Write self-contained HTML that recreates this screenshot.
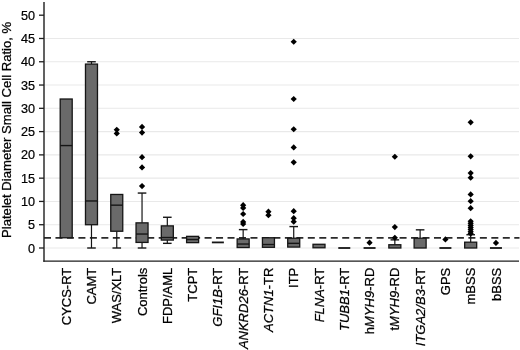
<!DOCTYPE html><html><head><meta charset="utf-8"><style>html,body{margin:0;padding:0;background:#fff;}svg{display:block;filter:blur(0.3px);}text{font-family:"Liberation Sans",sans-serif;fill:#000;stroke:#000;stroke-width:0.25px;}</style></head><body>
<svg width="520" height="350" viewBox="0 0 520 350">
<rect x="0" y="0" width="520" height="350" fill="#fff"/>
<line x1="45" y1="248.00" x2="519" y2="248.00" stroke="#e9e9e9" stroke-width="1.1"/>
<line x1="45" y1="224.72" x2="519" y2="224.72" stroke="#e9e9e9" stroke-width="1.1"/>
<line x1="45" y1="201.44" x2="519" y2="201.44" stroke="#e9e9e9" stroke-width="1.1"/>
<line x1="45" y1="178.16" x2="519" y2="178.16" stroke="#e9e9e9" stroke-width="1.1"/>
<line x1="45" y1="154.88" x2="519" y2="154.88" stroke="#e9e9e9" stroke-width="1.1"/>
<line x1="45" y1="131.60" x2="519" y2="131.60" stroke="#e9e9e9" stroke-width="1.1"/>
<line x1="45" y1="108.32" x2="519" y2="108.32" stroke="#e9e9e9" stroke-width="1.1"/>
<line x1="45" y1="85.04" x2="519" y2="85.04" stroke="#e9e9e9" stroke-width="1.1"/>
<line x1="45" y1="61.76" x2="519" y2="61.76" stroke="#e9e9e9" stroke-width="1.1"/>
<line x1="45" y1="38.48" x2="519" y2="38.48" stroke="#e9e9e9" stroke-width="1.1"/>
<line x1="44" y1="237.85" x2="519.5" y2="237.85" stroke="#2a2a2a" stroke-width="1.6" stroke-dasharray="7 4.47"/>
<rect x="60.20" y="99.01" width="12.00" height="138.75" fill="#6a6a6a" stroke="#151515" stroke-width="1.3"/>
<line x1="60.20" y1="145.57" x2="72.20" y2="145.57" stroke="#151515" stroke-width="1.4"/>
<line x1="91.48" y1="61.76" x2="91.48" y2="64.09" stroke="#151515" stroke-width="1.2"/>
<line x1="87.18" y1="61.76" x2="95.78" y2="61.76" stroke="#151515" stroke-width="1.4"/>
<line x1="91.48" y1="248.00" x2="91.48" y2="224.72" stroke="#151515" stroke-width="1.2"/>
<line x1="87.18" y1="248.00" x2="95.78" y2="248.00" stroke="#151515" stroke-width="1.4"/>
<rect x="85.48" y="64.09" width="12.00" height="160.63" fill="#6a6a6a" stroke="#151515" stroke-width="1.3"/>
<line x1="85.48" y1="200.97" x2="97.48" y2="200.97" stroke="#151515" stroke-width="1.4"/>
<line x1="116.76" y1="248.00" x2="116.76" y2="231.24" stroke="#151515" stroke-width="1.2"/>
<line x1="112.46" y1="248.00" x2="121.06" y2="248.00" stroke="#151515" stroke-width="1.4"/>
<rect x="110.76" y="194.46" width="12.00" height="36.78" fill="#6a6a6a" stroke="#151515" stroke-width="1.3"/>
<line x1="110.76" y1="205.16" x2="122.76" y2="205.16" stroke="#151515" stroke-width="1.4"/>
<line x1="142.04" y1="193.06" x2="142.04" y2="222.86" stroke="#151515" stroke-width="1.2"/>
<line x1="137.74" y1="193.06" x2="146.34" y2="193.06" stroke="#151515" stroke-width="1.4"/>
<line x1="142.04" y1="248.00" x2="142.04" y2="242.41" stroke="#151515" stroke-width="1.2"/>
<line x1="137.74" y1="248.00" x2="146.34" y2="248.00" stroke="#151515" stroke-width="1.4"/>
<rect x="136.04" y="222.86" width="12.00" height="19.56" fill="#6a6a6a" stroke="#151515" stroke-width="1.3"/>
<line x1="136.04" y1="234.03" x2="148.04" y2="234.03" stroke="#151515" stroke-width="1.4"/>
<line x1="167.32" y1="217.27" x2="167.32" y2="225.88" stroke="#151515" stroke-width="1.2"/>
<line x1="163.02" y1="217.27" x2="171.62" y2="217.27" stroke="#151515" stroke-width="1.4"/>
<line x1="167.32" y1="243.34" x2="167.32" y2="240.08" stroke="#151515" stroke-width="1.2"/>
<line x1="163.02" y1="243.34" x2="171.62" y2="243.34" stroke="#151515" stroke-width="1.4"/>
<rect x="161.32" y="225.88" width="12.00" height="14.20" fill="#6a6a6a" stroke="#151515" stroke-width="1.3"/>
<line x1="161.32" y1="237.52" x2="173.32" y2="237.52" stroke="#151515" stroke-width="1.4"/>
<rect x="186.60" y="236.36" width="12.00" height="6.29" fill="#6a6a6a" stroke="#151515" stroke-width="1.3"/>
<line x1="186.60" y1="239.53" x2="198.60" y2="239.53" stroke="#151515" stroke-width="1.4"/>
<line x1="211.88" y1="242.41" x2="223.88" y2="242.41" stroke="#151515" stroke-width="1.8"/>
<line x1="243.16" y1="229.61" x2="243.16" y2="238.92" stroke="#151515" stroke-width="1.2"/>
<line x1="238.86" y1="229.61" x2="247.46" y2="229.61" stroke="#151515" stroke-width="1.4"/>
<rect x="237.16" y="238.92" width="12.00" height="8.61" fill="#6a6a6a" stroke="#151515" stroke-width="1.3"/>
<line x1="237.16" y1="244.04" x2="249.16" y2="244.04" stroke="#151515" stroke-width="1.4"/>
<rect x="262.44" y="237.76" width="12.00" height="9.54" fill="#6a6a6a" stroke="#151515" stroke-width="1.3"/>
<line x1="262.44" y1="244.51" x2="274.44" y2="244.51" stroke="#151515" stroke-width="1.4"/>
<line x1="293.72" y1="226.58" x2="293.72" y2="238.22" stroke="#151515" stroke-width="1.2"/>
<line x1="289.42" y1="226.58" x2="298.02" y2="226.58" stroke="#151515" stroke-width="1.4"/>
<rect x="287.72" y="238.22" width="12.00" height="8.85" fill="#6a6a6a" stroke="#151515" stroke-width="1.3"/>
<line x1="287.72" y1="243.34" x2="299.72" y2="243.34" stroke="#151515" stroke-width="1.4"/>
<rect x="313.00" y="244.28" width="12.00" height="3.49" fill="#6a6a6a" stroke="#151515" stroke-width="1.3"/>
<line x1="338.28" y1="248.00" x2="350.28" y2="248.00" stroke="#151515" stroke-width="1.8"/>
<line x1="363.56" y1="248.00" x2="375.56" y2="248.00" stroke="#151515" stroke-width="1.8"/>
<line x1="394.84" y1="239.85" x2="394.84" y2="244.74" stroke="#151515" stroke-width="1.2"/>
<line x1="390.54" y1="239.85" x2="399.14" y2="239.85" stroke="#151515" stroke-width="1.4"/>
<rect x="388.84" y="244.74" width="12.00" height="3.26" fill="#6a6a6a" stroke="#151515" stroke-width="1.3"/>
<line x1="420.12" y1="229.84" x2="420.12" y2="238.22" stroke="#151515" stroke-width="1.2"/>
<line x1="415.82" y1="229.84" x2="424.42" y2="229.84" stroke="#151515" stroke-width="1.4"/>
<rect x="414.12" y="238.22" width="12.00" height="9.78" fill="#6a6a6a" stroke="#151515" stroke-width="1.3"/>
<line x1="439.40" y1="248.00" x2="451.40" y2="248.00" stroke="#151515" stroke-width="1.8"/>
<line x1="470.68" y1="234.73" x2="470.68" y2="242.18" stroke="#151515" stroke-width="1.2"/>
<line x1="466.38" y1="234.73" x2="474.98" y2="234.73" stroke="#151515" stroke-width="1.4"/>
<rect x="464.68" y="242.18" width="12.00" height="5.82" fill="#6a6a6a" stroke="#151515" stroke-width="1.3"/>
<line x1="489.96" y1="248.00" x2="501.96" y2="248.00" stroke="#151515" stroke-width="1.8"/>
<path d="M116.76 126.64L119.86 129.74L116.76 132.84L113.66 129.74Z" fill="#000"/>
<path d="M116.76 130.36L119.86 133.46L116.76 136.56L113.66 133.46Z" fill="#000"/>
<path d="M142.04 123.84L145.14 126.94L142.04 130.04L138.94 126.94Z" fill="#000"/>
<path d="M142.04 129.43L145.14 132.53L142.04 135.63L138.94 132.53Z" fill="#000"/>
<path d="M142.04 154.11L145.14 157.21L142.04 160.31L138.94 157.21Z" fill="#000"/>
<path d="M142.04 164.35L145.14 167.45L142.04 170.55L138.94 167.45Z" fill="#000"/>
<path d="M142.04 182.98L145.14 186.08L142.04 189.18L138.94 186.08Z" fill="#000"/>
<path d="M243.16 202.06L246.26 205.16L243.16 208.26L240.06 205.16Z" fill="#000"/>
<path d="M243.16 204.86L246.26 207.96L243.16 211.06L240.06 207.96Z" fill="#000"/>
<path d="M243.16 210.91L246.26 214.01L243.16 217.11L240.06 214.01Z" fill="#000"/>
<path d="M243.16 218.83L246.26 221.93L243.16 225.03L240.06 221.93Z" fill="#000"/>
<path d="M243.16 220.92L246.26 224.02L243.16 227.12L240.06 224.02Z" fill="#000"/>
<path d="M268.44 208.58L271.54 211.68L268.44 214.78L265.34 211.68Z" fill="#000"/>
<path d="M268.44 212.08L271.54 215.18L268.44 218.28L265.34 215.18Z" fill="#000"/>
<path d="M293.72 38.64L296.82 41.74L293.72 44.84L290.62 41.74Z" fill="#000"/>
<path d="M293.72 95.91L296.82 99.01L293.72 102.11L290.62 99.01Z" fill="#000"/>
<path d="M293.72 126.17L296.82 129.27L293.72 132.37L290.62 129.27Z" fill="#000"/>
<path d="M293.72 144.33L296.82 147.43L293.72 150.53L290.62 147.43Z" fill="#000"/>
<path d="M293.72 159.23L296.82 162.33L293.72 165.43L290.62 162.33Z" fill="#000"/>
<path d="M293.72 208.12L296.82 211.22L293.72 214.32L290.62 211.22Z" fill="#000"/>
<path d="M293.72 215.10L296.82 218.20L293.72 221.30L290.62 218.20Z" fill="#000"/>
<path d="M293.72 218.59L296.82 221.69L293.72 224.79L290.62 221.69Z" fill="#000"/>
<path d="M369.56 239.55L372.66 242.65L369.56 245.75L366.46 242.65Z" fill="#000"/>
<path d="M394.84 153.64L397.94 156.74L394.84 159.84L391.74 156.74Z" fill="#000"/>
<path d="M394.84 223.95L397.94 227.05L394.84 230.15L391.74 227.05Z" fill="#000"/>
<path d="M394.84 234.66L397.94 237.76L394.84 240.86L391.74 237.76Z" fill="#000"/>
<path d="M445.40 236.29L448.50 239.39L445.40 242.49L442.30 239.39Z" fill="#000"/>
<path d="M470.68 119.19L473.78 122.29L470.68 125.39L467.58 122.29Z" fill="#000"/>
<path d="M470.68 153.18L473.78 156.28L470.68 159.38L467.58 156.28Z" fill="#000"/>
<path d="M470.68 169.94L473.78 173.04L470.68 176.14L467.58 173.04Z" fill="#000"/>
<path d="M470.68 174.59L473.78 177.69L470.68 180.79L467.58 177.69Z" fill="#000"/>
<path d="M470.68 191.36L473.78 194.46L470.68 197.56L467.58 194.46Z" fill="#000"/>
<path d="M470.68 198.11L473.78 201.21L470.68 204.31L467.58 201.21Z" fill="#000"/>
<path d="M470.68 205.09L473.78 208.19L470.68 211.29L467.58 208.19Z" fill="#000"/>
<path d="M470.68 218.13L473.78 221.23L470.68 224.33L467.58 221.23Z" fill="#000"/>
<path d="M470.68 220.22L473.78 223.32L470.68 226.42L467.58 223.32Z" fill="#000"/>
<path d="M470.68 222.32L473.78 225.42L470.68 228.52L467.58 225.42Z" fill="#000"/>
<path d="M470.68 224.41L473.78 227.51L470.68 230.61L467.58 227.51Z" fill="#000"/>
<path d="M470.68 226.51L473.78 229.61L470.68 232.71L467.58 229.61Z" fill="#000"/>
<path d="M470.68 228.60L473.78 231.70L470.68 234.80L467.58 231.70Z" fill="#000"/>
<path d="M470.68 230.47L473.78 233.57L470.68 236.67L467.58 233.57Z" fill="#000"/>
<path d="M495.96 239.78L499.06 242.88L495.96 245.98L492.86 242.88Z" fill="#000"/>
<line x1="44" y1="2" x2="44" y2="261.8" stroke="#1e1e1e" stroke-width="1.4"/>
<line x1="43.3" y1="261.1" x2="519" y2="261.1" stroke="#1e1e1e" stroke-width="1.4"/>
<line x1="39" y1="248.00" x2="44" y2="248.00" stroke="#1e1e1e" stroke-width="1.3"/>
<text transform="translate(35.0,252.60) scale(0.93,1)" font-size="13.6" text-anchor="end">0</text>
<line x1="39" y1="224.72" x2="44" y2="224.72" stroke="#1e1e1e" stroke-width="1.3"/>
<text transform="translate(35.0,229.32) scale(0.93,1)" font-size="13.6" text-anchor="end">5</text>
<line x1="39" y1="201.44" x2="44" y2="201.44" stroke="#1e1e1e" stroke-width="1.3"/>
<text transform="translate(35.0,206.04) scale(0.93,1)" font-size="13.6" text-anchor="end">10</text>
<line x1="39" y1="178.16" x2="44" y2="178.16" stroke="#1e1e1e" stroke-width="1.3"/>
<text transform="translate(35.0,182.76) scale(0.93,1)" font-size="13.6" text-anchor="end">15</text>
<line x1="39" y1="154.88" x2="44" y2="154.88" stroke="#1e1e1e" stroke-width="1.3"/>
<text transform="translate(35.0,159.48) scale(0.93,1)" font-size="13.6" text-anchor="end">20</text>
<line x1="39" y1="131.60" x2="44" y2="131.60" stroke="#1e1e1e" stroke-width="1.3"/>
<text transform="translate(35.0,136.20) scale(0.93,1)" font-size="13.6" text-anchor="end">25</text>
<line x1="39" y1="108.32" x2="44" y2="108.32" stroke="#1e1e1e" stroke-width="1.3"/>
<text transform="translate(35.0,112.92) scale(0.93,1)" font-size="13.6" text-anchor="end">30</text>
<line x1="39" y1="85.04" x2="44" y2="85.04" stroke="#1e1e1e" stroke-width="1.3"/>
<text transform="translate(35.0,89.64) scale(0.93,1)" font-size="13.6" text-anchor="end">35</text>
<line x1="39" y1="61.76" x2="44" y2="61.76" stroke="#1e1e1e" stroke-width="1.3"/>
<text transform="translate(35.0,66.36) scale(0.93,1)" font-size="13.6" text-anchor="end">40</text>
<line x1="39" y1="38.48" x2="44" y2="38.48" stroke="#1e1e1e" stroke-width="1.3"/>
<text transform="translate(35.0,43.08) scale(0.93,1)" font-size="13.6" text-anchor="end">45</text>
<line x1="39" y1="15.20" x2="44" y2="15.20" stroke="#1e1e1e" stroke-width="1.3"/>
<text transform="translate(35.0,19.80) scale(0.93,1)" font-size="13.6" text-anchor="end">50</text>
<text transform="translate(10.6,129.9) rotate(-90)" font-size="13.1" text-anchor="middle">Platelet Diameter Small Cell Ratio, %</text>
<text transform="translate(70.80,267.7) rotate(-90)" font-size="13" text-anchor="end"><tspan>CYCS-RT</tspan></text>
<text transform="translate(96.08,267.7) rotate(-90)" font-size="13" text-anchor="end"><tspan>CAMT</tspan></text>
<text transform="translate(121.36,267.7) rotate(-90)" font-size="13" text-anchor="end"><tspan>WAS/XLT</tspan></text>
<text transform="translate(146.64,267.7) rotate(-90)" font-size="13" text-anchor="end"><tspan>Controls</tspan></text>
<text transform="translate(171.92,267.7) rotate(-90)" font-size="13" text-anchor="end"><tspan>FDP/AML</tspan></text>
<text transform="translate(197.20,267.7) rotate(-90)" font-size="13" text-anchor="end"><tspan>TCPT</tspan></text>
<text transform="translate(222.48,267.7) rotate(-90)" font-size="13" text-anchor="end"><tspan font-style="italic">GFI1B</tspan><tspan>-RT</tspan></text>
<text transform="translate(247.76,267.7) rotate(-90)" font-size="13" text-anchor="end"><tspan font-style="italic">ANKRD26</tspan><tspan>-RT</tspan></text>
<text transform="translate(273.04,267.7) rotate(-90)" font-size="13" text-anchor="end"><tspan font-style="italic">ACTN1</tspan><tspan>-TR</tspan></text>
<text transform="translate(298.32,267.7) rotate(-90)" font-size="13" text-anchor="end"><tspan>ITP</tspan></text>
<text transform="translate(323.60,267.7) rotate(-90)" font-size="13" text-anchor="end"><tspan font-style="italic">FLNA</tspan><tspan>-RT</tspan></text>
<text transform="translate(348.88,267.7) rotate(-90)" font-size="13" text-anchor="end"><tspan font-style="italic">TUBB1</tspan><tspan>-RT</tspan></text>
<text transform="translate(374.16,267.7) rotate(-90)" font-size="13" text-anchor="end"><tspan>h</tspan><tspan font-style="italic">MYH9</tspan><tspan>-RD</tspan></text>
<text transform="translate(399.44,267.7) rotate(-90)" font-size="13" text-anchor="end"><tspan>t</tspan><tspan font-style="italic">MYH9</tspan><tspan>-RD</tspan></text>
<text transform="translate(424.72,267.7) rotate(-90)" font-size="13" text-anchor="end"><tspan font-style="italic">ITGA2/B3</tspan><tspan>-RT</tspan></text>
<text transform="translate(450.00,267.7) rotate(-90)" font-size="13" text-anchor="end"><tspan>GPS</tspan></text>
<text transform="translate(475.28,267.7) rotate(-90)" font-size="13" text-anchor="end"><tspan>mBSS</tspan></text>
<text transform="translate(500.56,267.7) rotate(-90)" font-size="13" text-anchor="end"><tspan>bBSS</tspan></text>
</svg></body></html>
